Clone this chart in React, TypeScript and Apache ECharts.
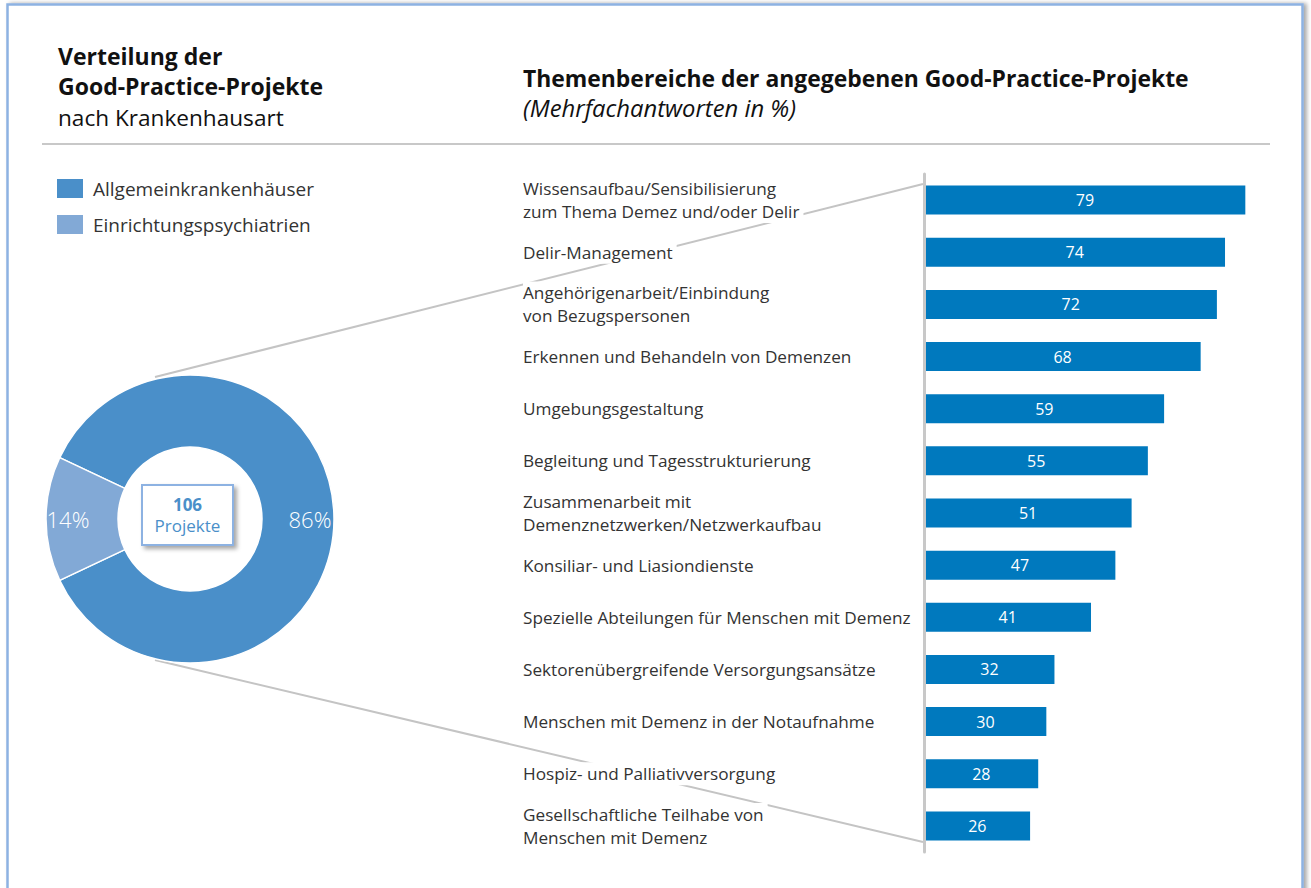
import React, { useEffect, useRef } from "react";
import * as echarts from "echarts";

const categories: string[] = [
  "Wissensaufbau/Sensibilisierung\nzum Thema Demez und/oder Delir",
  "Delir-Management",
  "Angehörigenarbeit/Einbindung\nvon Bezugspersonen",
  "Erkennen und Behandeln von Demenzen",
  "Umgebungsgestaltung",
  "Begleitung und Tagesstrukturierung",
  "Zusammenarbeit mit\nDemenznetzwerken/Netzwerkaufbau",
  "Konsiliar- und Liasiondienste",
  "Spezielle Abteilungen für Menschen mit Demenz",
  "Sektorenübergreifende Versorgungsansätze",
  "Menschen mit Demenz in der Notaufnahme",
  "Hospiz- und Palliativversorgung",
  "Gesellschaftliche Teilhabe von\nMenschen mit Demenz",
];
const values: number[] = [79, 74, 72, 68, 59, 55, 51, 47, 41, 32, 30, 28, 26];

const pieNames: string[] = ["Allgemeinkrankenhäuser", "Einrichtungspsychiatrien"];
const pieValues: number[] = [86, 14];
const totalProjects = 106;

const FONT = "'Open Sans', 'Noto Sans', sans-serif";
const TXT = "#333333";
const DARK_BLUE = "#4a8fc9";
const LIGHT_BLUE = "#82a9d6";
const BAR_BLUE = "#0079be";
const FRAME = "#8db2e2";

export default function App() {
  const ref = useRef<HTMLDivElement>(null);
  useEffect(() => {
    if (!ref.current) return;
    const chart = echarts.init(ref.current, undefined, { renderer: "svg" });
    const pieLabelPadding = [
      [0, 0, 0, 18],
      [0, 22, 0, 0],
    ];
    chart.setOption({
      animation: false,
      backgroundColor: "#ffffff",
      textStyle: { fontFamily: FONT },
      legend: {
        data: pieNames,
        orient: "vertical",
        left: 55,
        top: 177,
        padding: 0,
        itemWidth: 28,
        itemHeight: 21,
        itemGap: 13,
        selectedMode: false,
        icon: "rect",
        textStyle: { fontSize: 19, lineHeight: 21, color: TXT, fontFamily: FONT, padding: [0, 0, 0, 4] },
      },
      grid: { left: 924.5, right: 21, top: 174, bottom: 36 },
      xAxis: {
        type: "value",
        min: 0,
        max: 90,
        show: false,
      },
      yAxis: {
        type: "category",
        inverse: true,
        data: categories,
        z: 10,
        axisLine: { show: true, lineStyle: { color: "#c8c8c8", width: 3 } },
        axisTick: { show: false },
        axisLabel: {
          interval: 0,
          align: "left",
          margin: 401.5,
          fontSize: 17.2,
          lineHeight: 23,
          color: TXT,
          fontFamily: FONT,
          backgroundColor: "#ffffff",
          padding: [0, 4, 0, 0],
        },
      },
      series: [
        {
          type: "bar",
          data: values,
          barWidth: 29,
          itemStyle: { color: BAR_BLUE },
          label: {
            show: true,
            position: "inside",
            color: "#ffffff",
            fontSize: 16,
            fontFamily: FONT,
          },
        },
        {
          type: "pie",
          center: [190, 519],
          radius: [72, 144],
          startAngle: 154.8,
          clockwise: true,
          z: 3,
          itemStyle: { borderColor: "#ffffff", borderWidth: 1.5 },
          labelLine: { show: false },
          emphasis: { disabled: true },
          data: pieNames.map((n, i) => ({
            name: n,
            value: pieValues[i],
            itemStyle: { color: i === 0 ? DARK_BLUE : LIGHT_BLUE },
            label: { padding: pieLabelPadding[i] },
          })),
          label: {
            show: true,
            position: "inside",
            formatter: "{c}%",
            color: "#ffffff",
            fontSize: 22,
            fontWeight: 300,
            fontFamily: FONT,
          },
        },
      ],
      graphic: [
        {
          type: "rect",
          z: 0,
          silent: true,
          shape: { x: 7.5, y: 4.5, width: 1295, height: 900 },
          style: {
            fill: "#ffffff",
            stroke: FRAME,
            lineWidth: 2.5,
            shadowBlur: 4,
            shadowOffsetX: 3,
            shadowOffsetY: 0,
            shadowColor: "rgba(0,0,0,0.35)",
          },
        },
        {
          type: "text",
          z: 5,
          x: 58,
          y: 56,
          style: { text: "Verteilung der", fontSize: 23, fontWeight: "bold", fill: "#111", fontFamily: FONT, verticalAlign: "middle" },
        },
        {
          type: "text",
          z: 5,
          x: 58,
          y: 86,
          style: { text: "Good-Practice-Projekte", fontSize: 23, fontWeight: "bold", fill: "#111", fontFamily: FONT, verticalAlign: "middle" },
        },
        {
          type: "text",
          z: 5,
          x: 58,
          y: 117,
          style: { text: "nach Krankenhausart", fontSize: 22.6, fill: "#111", fontFamily: FONT, verticalAlign: "middle" },
        },
        {
          type: "text",
          z: 5,
          x: 523,
          y: 78,
          style: { text: "Themenbereiche der angegebenen Good-Practice-Projekte", fontSize: 22.9, fontWeight: "bold", fill: "#111", fontFamily: FONT, verticalAlign: "middle" },
        },
        {
          type: "text",
          z: 5,
          x: 523,
          y: 108,
          style: { text: "(Mehrfachantworten in %)", fontSize: 23.8, fontStyle: "italic", fill: "#111", fontFamily: FONT, verticalAlign: "middle" },
        },
        {
          type: "line",
          z: 1,
          silent: true,
          shape: { x1: 42, y1: 144, x2: 1270, y2: 144 },
          style: { stroke: "#c8c8c8", lineWidth: 2 },
        },
        {
          type: "line",
          z: 1,
          silent: true,
          shape: { x1: 155, y1: 377, x2: 923, y2: 184 },
          style: { stroke: "#c4c4c4", lineWidth: 2 },
        },
        {
          type: "line",
          z: 1,
          silent: true,
          shape: { x1: 155, y1: 660, x2: 923, y2: 842 },
          style: { stroke: "#c4c4c4", lineWidth: 2 },
        },
        {
          type: "rect",
          z: 6,
          silent: true,
          shape: { x: 142, y: 485, width: 91, height: 60 },
          style: {
            fill: "#ffffff",
            stroke: FRAME,
            lineWidth: 2,
            shadowBlur: 4,
            shadowOffsetX: 3,
            shadowOffsetY: 3,
            shadowColor: "rgba(0,0,0,0.35)",
          },
        },
        {
          type: "text",
          z: 7,
          x: 187.5,
          y: 504,
          style: { text: String(totalProjects), fontSize: 17, fontWeight: "bold", fill: DARK_BLUE, fontFamily: FONT, align: "center", verticalAlign: "middle" },
        },
        {
          type: "text",
          z: 7,
          x: 187.5,
          y: 525,
          style: { text: "Projekte", fontSize: 17, fill: DARK_BLUE, fontFamily: FONT, align: "center", verticalAlign: "middle" },
        },
      ],
    });
    return () => chart.dispose();
  }, []);
  return (
    <div
      ref={ref}
      style={{ position: "fixed", left: 0, top: 0, width: 1311, height: 888 }}
    />
  );
}
